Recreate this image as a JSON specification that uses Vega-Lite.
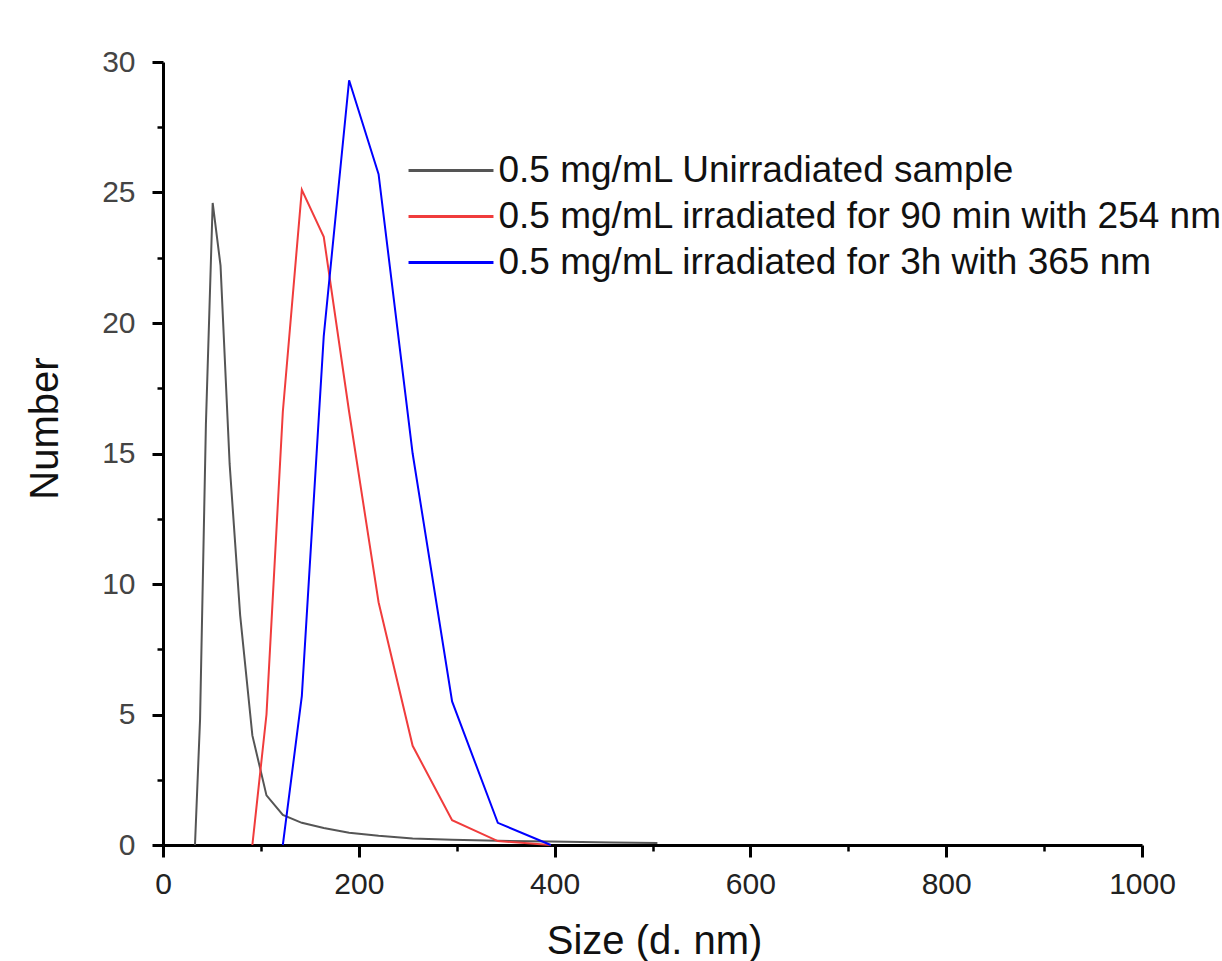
{
  "$schema": "https://vega.github.io/schema/vega-lite/v6.json",
  "width": 979,
  "height": 783,
  "autosize": {"type": "none"},
  "padding": {"left": 163, "top": 62, "right": 80, "bottom": 116},
  "background": "white",
  "config": {"view": {"stroke": null}, "font": "Liberation Sans"},
  "data": {
    "values": [
      {"series": "0.5 mg/mL Unirradiated sample", "size": 32.67, "number": 0},
      {"series": "0.5 mg/mL Unirradiated sample", "size": 37.84, "number": 4.8},
      {"series": "0.5 mg/mL Unirradiated sample", "size": 43.82, "number": 16.1},
      {"series": "0.5 mg/mL Unirradiated sample", "size": 50.75, "number": 24.6},
      {"series": "0.5 mg/mL Unirradiated sample", "size": 58.77, "number": 22.2},
      {"series": "0.5 mg/mL Unirradiated sample", "size": 68.06, "number": 14.6},
      {"series": "0.5 mg/mL Unirradiated sample", "size": 78.82, "number": 8.8},
      {"series": "0.5 mg/mL Unirradiated sample", "size": 91.28, "number": 4.2},
      {"series": "0.5 mg/mL Unirradiated sample", "size": 105.7, "number": 1.9},
      {"series": "0.5 mg/mL Unirradiated sample", "size": 122.4, "number": 1.15},
      {"series": "0.5 mg/mL Unirradiated sample", "size": 141.8, "number": 0.85},
      {"series": "0.5 mg/mL Unirradiated sample", "size": 164.2, "number": 0.65},
      {"series": "0.5 mg/mL Unirradiated sample", "size": 190.1, "number": 0.47},
      {"series": "0.5 mg/mL Unirradiated sample", "size": 220.2, "number": 0.35},
      {"series": "0.5 mg/mL Unirradiated sample", "size": 255.0, "number": 0.25},
      {"series": "0.5 mg/mL Unirradiated sample", "size": 295.3, "number": 0.2},
      {"series": "0.5 mg/mL Unirradiated sample", "size": 342.0, "number": 0.16},
      {"series": "0.5 mg/mL Unirradiated sample", "size": 396.1, "number": 0.13},
      {"series": "0.5 mg/mL Unirradiated sample", "size": 458.7, "number": 0.1},
      {"series": "0.5 mg/mL Unirradiated sample", "size": 505.0, "number": 0.08},
      {"series": "0.5 mg/mL irradiated for 90 min with 254 nm", "size": 91.28, "number": 0},
      {"series": "0.5 mg/mL irradiated for 90 min with 254 nm", "size": 105.7, "number": 5.0},
      {"series": "0.5 mg/mL irradiated for 90 min with 254 nm", "size": 122.4, "number": 16.6},
      {"series": "0.5 mg/mL irradiated for 90 min with 254 nm", "size": 141.8, "number": 25.1},
      {"series": "0.5 mg/mL irradiated for 90 min with 254 nm", "size": 164.2, "number": 23.3},
      {"series": "0.5 mg/mL irradiated for 90 min with 254 nm", "size": 190.1, "number": 16.6},
      {"series": "0.5 mg/mL irradiated for 90 min with 254 nm", "size": 220.2, "number": 9.3},
      {"series": "0.5 mg/mL irradiated for 90 min with 254 nm", "size": 255.0, "number": 3.8},
      {"series": "0.5 mg/mL irradiated for 90 min with 254 nm", "size": 295.3, "number": 0.95},
      {"series": "0.5 mg/mL irradiated for 90 min with 254 nm", "size": 342.0, "number": 0.15},
      {"series": "0.5 mg/mL irradiated for 90 min with 254 nm", "size": 396.1, "number": 0},
      {"series": "0.5 mg/mL irradiated for 3h with 365 nm", "size": 122.4, "number": 0},
      {"series": "0.5 mg/mL irradiated for 3h with 365 nm", "size": 141.8, "number": 5.7},
      {"series": "0.5 mg/mL irradiated for 3h with 365 nm", "size": 164.2, "number": 19.5},
      {"series": "0.5 mg/mL irradiated for 3h with 365 nm", "size": 190.1, "number": 29.3},
      {"series": "0.5 mg/mL irradiated for 3h with 365 nm", "size": 220.2, "number": 25.7},
      {"series": "0.5 mg/mL irradiated for 3h with 365 nm", "size": 255.0, "number": 15.0},
      {"series": "0.5 mg/mL irradiated for 3h with 365 nm", "size": 295.3, "number": 5.5},
      {"series": "0.5 mg/mL irradiated for 3h with 365 nm", "size": 342.0, "number": 0.85},
      {"series": "0.5 mg/mL irradiated for 3h with 365 nm", "size": 396.1, "number": 0}
    ]
  },
  "layer": [
    {
      "mark": {"type": "line", "strokeWidth": 2, "interpolate": "linear"},
      "encoding": {
        "x": {
          "field": "size", "type": "quantitative",
          "scale": {"domain": [0, 1000], "nice": false, "zero": false},
          "axis": {
            "title": "Size (d. nm)", "values": [0, 200, 400, 600, 800, 1000], "format": "d",
            "grid": false, "tickSize": 12, "tickWidth": 3, "tickColor": "black",
            "domainColor": "black", "domainWidth": 3,
            "labelFontSize": 30, "labelColor": "#222", "labelPadding": 12, "labelFlush": false, "labelOverlap": false,
            "titleFontSize": 40, "titleFontWeight": "normal", "titleColor": "#111",
            "titleX": 491, "titleY": 108, "titleBaseline": "alphabetic", "titleAlign": "center"
          }
        },
        "y": {
          "field": "number", "type": "quantitative",
          "scale": {"domain": [0, 30], "nice": false},
          "axis": {
            "title": "Number", "values": [0, 5, 10, 15, 20, 25, 30],
            "grid": false, "tickSize": 11, "tickWidth": 3, "tickColor": "black",
            "domainColor": "black", "domainWidth": 3,
            "labelFontSize": 30, "labelColor": "#444", "labelPadding": 17, "labelFlush": false, "labelOverlap": false,
            "titleFontSize": 40, "titleFontWeight": "normal", "titleColor": "#111",
            "titleX": -106, "titleY": 366, "titleBaseline": "alphabetic", "titleAngle": 270, "titleAlign": "center"
          }
        },
        "color": {
          "field": "series", "type": "nominal",
          "scale": {
            "domain": ["0.5 mg/mL Unirradiated sample", "0.5 mg/mL irradiated for 90 min with 254 nm", "0.5 mg/mL irradiated for 3h with 365 nm"],
            "range": ["#555555", "#f03c3c", "#0000ff"]
          },
          "legend": {
            "orient": "none", "legendX": 269.5, "legendY": 90, "title": null,
            "symbolType": "M-3,0H3", "symbolSize": 802, "symbolStrokeWidth": 3,
            "labelFontSize": 37, "labelColor": "#111", "labelOffset": 29, "labelLimit": 2000,
            "rowPadding": 8, "padding": 0
          }
        }
      }
    },
    {
      "mark": {"type": "point", "opacity": 0},
      "encoding": {
        "x": {
          "field": "size", "type": "quantitative",
          "axis": {"orient": "bottom", "values": [100, 300, 500, 700, 900], "labels": false, "domain": false, "grid": false,
                   "tickSize": 6, "tickWidth": 2.5, "tickColor": "black", "title": null}
        },
        "y": {
          "field": "number", "type": "quantitative",
          "axis": {"orient": "left", "values": [2.5, 7.5, 12.5, 17.5, 22.5, 27.5], "labels": false, "domain": false, "grid": false,
                   "tickSize": 6, "tickWidth": 2.5, "tickColor": "black", "title": null}
        }
      }
    }
  ],
  "resolve": {"axis": {"x": "independent", "y": "independent"}}
}
